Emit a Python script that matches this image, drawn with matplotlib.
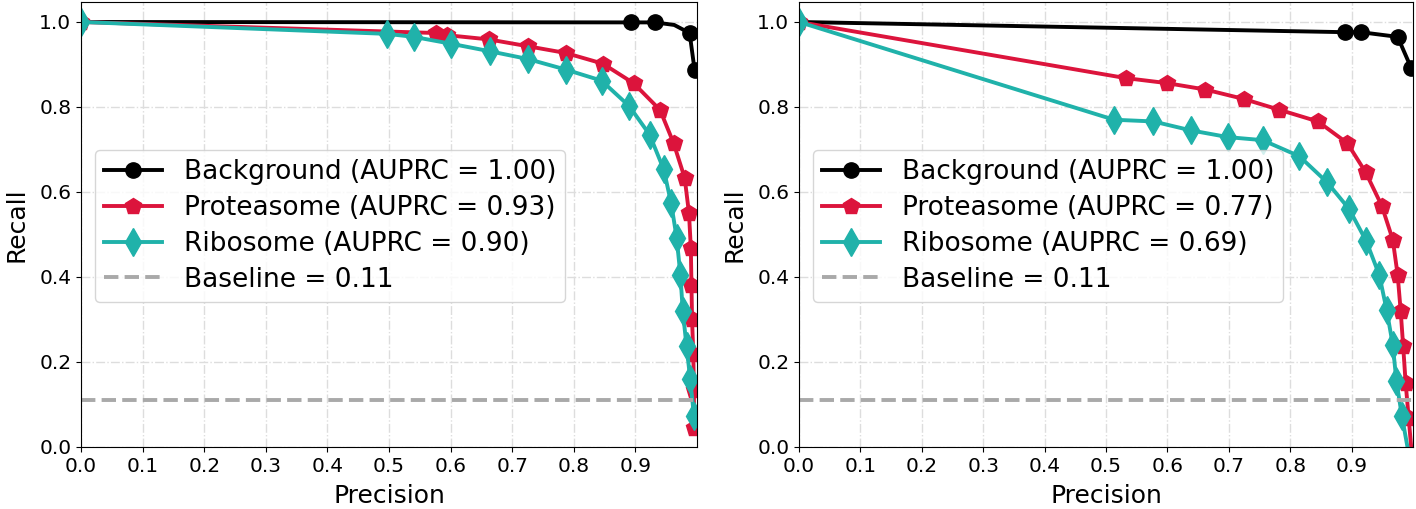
import numpy as np
import matplotlib
matplotlib.use("Agg")
import matplotlib.pyplot as plt

# ---- left panel ----
bg_p_left = [0.0, 0.893, 0.932, 0.963, 0.988, 0.996]
bg_r_left = [1.0, 0.999, 0.999, 0.993, 0.974, 0.888]
bg_mark_left = [1, 2, 4, 5]

pr_p_left = [0.0, 0.576, 0.594, 0.662, 0.725, 0.787, 0.847, 0.897, 0.940, 0.962,
             0.980, 0.987, 0.990, 0.991, 0.992, 0.994, 0.995, 0.995]
pr_r_left = [1.0, 0.974, 0.969, 0.959, 0.943, 0.927, 0.902, 0.856, 0.793, 0.715,
             0.633, 0.550, 0.468, 0.382, 0.300, 0.218, 0.135, 0.045]

ri_p_left = [0.0, 0.497, 0.540, 0.600, 0.664, 0.725, 0.787, 0.845, 0.890, 0.923,
             0.946, 0.958, 0.967, 0.973, 0.977, 0.983, 0.989, 0.995]
ri_r_left = [1.0, 0.972, 0.965, 0.949, 0.931, 0.913, 0.888, 0.862, 0.802, 0.735,
             0.653, 0.574, 0.492, 0.405, 0.319, 0.237, 0.160, 0.073]

auprc_left = [1.00, 0.93, 0.90]

# ---- right panel ----
bg_p_right = [0.0, 0.889, 0.915, 0.975, 0.997]
bg_r_right = [1.0, 0.976, 0.976, 0.965, 0.892]
bg_mark_right = [1, 2, 3, 4]

pr_p_right = [0.0, 0.532, 0.600, 0.662, 0.724, 0.781, 0.845, 0.893, 0.923, 0.949,
              0.967, 0.975, 0.980, 0.984, 0.988, 0.993, 0.997]
pr_r_right = [1.0, 0.868, 0.856, 0.841, 0.819, 0.794, 0.766, 0.715, 0.646, 0.568,
              0.488, 0.405, 0.319, 0.237, 0.151, 0.068, 0.0]

ri_p_right = [0.0, 0.513, 0.577, 0.638, 0.699, 0.755, 0.815, 0.860, 0.896, 0.924,
              0.945, 0.957, 0.967, 0.973, 0.982, 0.991]
ri_r_right = [1.0, 0.770, 0.766, 0.745, 0.729, 0.722, 0.684, 0.623, 0.560, 0.484,
              0.405, 0.323, 0.241, 0.155, 0.072, 0.0]

auprc_right = [1.00, 0.77, 0.69]

baseline = 0.11
xticks = np.arange(0.0, 0.95, 0.1)
yticks = np.arange(0.0, 1.01, 0.2)


def draw(ax, bg, pr, ri, auprc, bg_mark):
    ax.plot(bg[0], bg[1], "-o", color="black", lw=2.8, ms=11, markevery=bg_mark,
            label="Background (AUPRC = %.2f)" % auprc[0])
    ax.plot(pr[0], pr[1], "-p", color="crimson", lw=2.8, ms=12,
            markevery=list(range(len(pr[0]) - (1 if pr[1][-1] == 0 else 0))),
            label="Proteasome (AUPRC = %.2f)" % auprc[1])
    ax.plot(ri[0], ri[1], "-d", color="lightseagreen", lw=2.8, ms=14,
            markevery=list(range(len(ri[0]) - (1 if ri[1][-1] == 0 else 0))),
            label="Ribosome (AUPRC = %.2f)" % auprc[2])
    ax.axhline(baseline, color="darkgray", ls="--", lw=2.8,
               label="Baseline = %.2f" % baseline)

    ax.set_xlim(0.0, 1.0)
    ax.set_ylim(0.0, 1.047)
    ax.set_xticks(xticks)
    ax.set_yticks(yticks)
    ax.tick_params(labelsize=14.5)
    ax.grid(True, ls="-.", color="#dddddd", lw=1)
    ax.set_axisbelow(True)
    ax.set_xlabel("Precision", fontsize=18, labelpad=6)
    ax.set_ylabel("Recall", fontsize=18, labelpad=8)
    ax.legend(loc="upper left", bbox_to_anchor=(0.023, 0.667), borderaxespad=0,
              fontsize=19, labelspacing=0.37, handlelength=2.2, handletextpad=0.8,
              borderpad=0.35)


figure = plt.figure(figsize=(14.16, 5.09), dpi=100)
ax1 = figure.add_axes([81 / 1416, 1 - 447 / 509, 616 / 1416, 445 / 509])
ax2 = figure.add_axes([799 / 1416, 1 - 447 / 509, 614 / 1416, 445 / 509])

draw(ax1, (bg_p_left, bg_r_left), (pr_p_left, pr_r_left), (ri_p_left, ri_r_left),
     auprc_left, bg_mark_left)
draw(ax2, (bg_p_right, bg_r_right), (pr_p_right, pr_r_right), (ri_p_right, ri_r_right),
     auprc_right, bg_mark_right)

figure.savefig("out.png", dpi=100)
